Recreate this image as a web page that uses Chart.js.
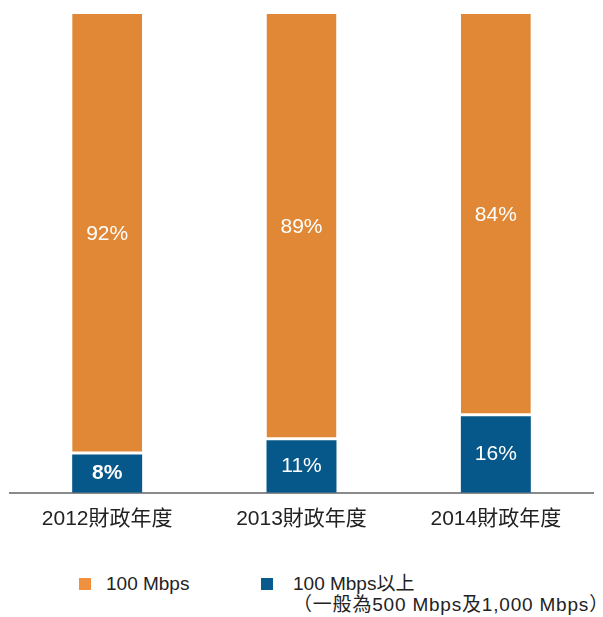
<!DOCTYPE html>
<html>
<head>
<meta charset="utf-8">
<script src="https://cdn.jsdelivr.net/npm/chart.js@4"></script>
<style>
  body { margin: 0; background: #fff; font-family: "Liberation Sans", Arial, "Noto Sans CJK TC", sans-serif; }
  #wrap { position: relative; width: 603px; height: 617px; }
  #box { position: absolute; left: 0; top: 0; width: 603px; height: 546px; }
  .leg { position: absolute; font-size: 19px; color: #222; line-height: 21px; white-space: nowrap; }
  .sw { position: absolute; width: 12px; height: 12px; }
</style>
</head>
<body>
<div id="wrap">
  <div id="box"><canvas id="chart"></canvas></div>
  <div class="sw" style="left:79px; top:578px; background:#F0913F;"></div>
  <div class="leg" style="left:106px; top:573px;">100 Mbps</div>
  <div class="sw" style="left:261px; top:578px; background:#0B5A8E;"></div>
  <div class="leg" style="left:293px; top:573px;">100 Mbps以上<br><span style="letter-spacing:0.8px">（一般為500 Mbps及1,000 Mbps）</span></div>
</div>
<script>
const years = ['2012財政年度', '2013財政年度', '2014財政年度'];
const above100 = [8, 11, 16];
const at100 = [92, 89, 84];

document.addEventListener('DOMContentLoaded', () => {
    initChart();
});

const pctLabels = {
    id: 'pctLabels',
    afterDatasetsDraw(chart) {
        const ctx = chart.ctx;
        ctx.save();
        ctx.fillStyle = '#fff';
        ctx.textAlign = 'center';
        ctx.textBaseline = 'middle';
        chart.data.datasets.forEach((ds, i) => {
            chart.getDatasetMeta(i).data.forEach((bar, j) => {
                const bold = (i === 0 && j === 0);
                ctx.font = (bold ? 'bold ' : '') + '21px "Liberation Sans", Arial, sans-serif';
                const mid = (bar.y + bar.base) / 2;
                ctx.fillText(ds.data[j] + '%', bar.x, mid);
            });
        });
        ctx.restore();
    }
};

function initChart() {
    const ctx = document.getElementById('chart');
    new Chart(ctx.getContext('2d'), {
        type: 'bar',
        data: {
            labels: years,
            datasets: [{
                label: '100 Mbps以上',
                data: above100,
                backgroundColor: '#06578A',
                borderWidth: 0,
                barPercentage: 0.36,
                categoryPercentage: 1
            }, {
                label: '100 Mbps',
                data: at100,
                backgroundColor: '#E08836',
                borderColor: '#fff',
                borderSkipped: false,
                borderWidth: { top: 0, left: 0, right: 0, bottom: 3 },
                barPercentage: 0.36,
                categoryPercentage: 1
            }]
        },
        plugins: [pctLabels],
        options: {
            responsive: true,
            maintainAspectRatio: false,
            animation: false,
            layout: { padding: { left: 10, right: 10, top: 14, bottom: 0 } },
            plugins: { legend: { display: false }, tooltip: { enabled: false } },
            scales: {
                x: {
                    stacked: true,
                    grid: { display: false, drawTicks: false },
                    border: { display: true, color: '#8a8a8a', width: 2 },
                    ticks: {
                        padding: 14,
                        color: '#222',
                        font: { size: 21, family: '"Liberation Sans", Arial, "Noto Sans CJK TC", sans-serif' }
                    }
                },
                y: { stacked: true, display: false, min: 0, max: 100 }
            }
        }
    });
}
</script>
</body>
</html>
